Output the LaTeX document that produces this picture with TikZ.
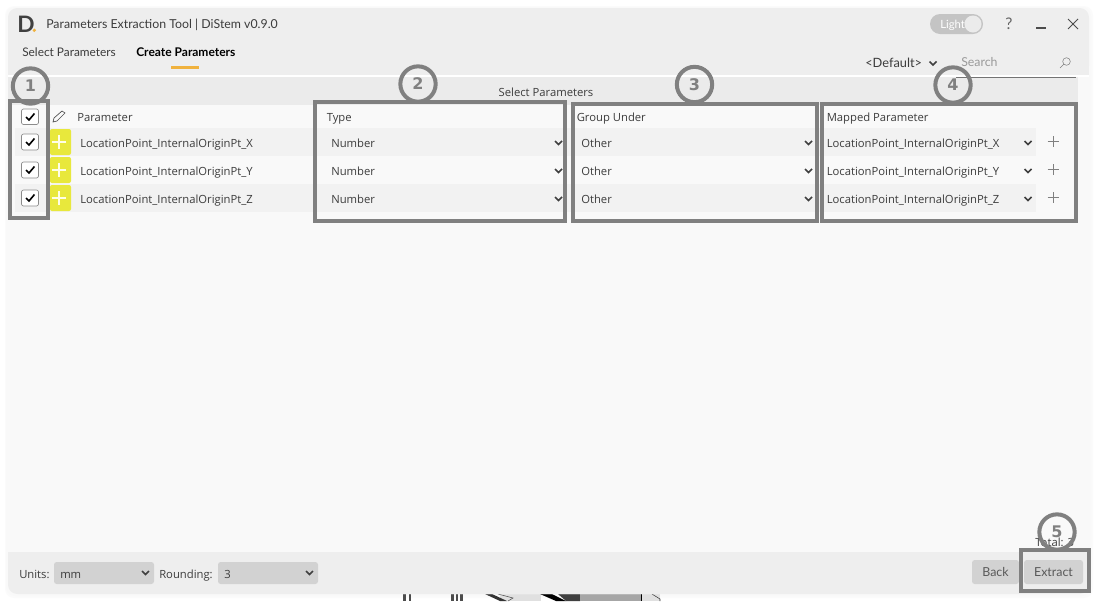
\documentclass[tikz,border=0pt]{standalone}
\usepackage{fontspec}
\setmainfont{Open Sans}
\newfontfamily\titlefont{Lato}
\newfontfamily\numfont{DejaVu Sans}
\usepackage{xcolor}
\usetikzlibrary{positioning, calc, shapes}
\definecolor{barback}{HTML}{EEEEEE}
\definecolor{stripback}{HTML}{EBEBEB}
\definecolor{bodyback}{HTML}{F9F9F9}
\definecolor{rowback}{HTML}{F2F2F2}
\definecolor{marker}{HTML}{808080}
\definecolor{plusyellow}{HTML}{E8E83C}
\definecolor{tabline}{HTML}{F0B23E}
\definecolor{uitext}{HTML}{3C3C3C}
\definecolor{btnback}{HTML}{D2D2D2}
\tikzset{
  lbl/.style={anchor=base west, inner sep=0pt, text=uitext, font=\fontsize{8.45}{10}\selectfont},
  titlelbl/.style={lbl, font=\titlefont\fontsize{9.25}{11}\selectfont},
  markbox/.style={draw=marker, line width=3pt},
  markcircle/.style={circle, draw=marker, line width=3pt, minimum size=26.5pt, inner sep=0pt, text=marker, font=\numfont\bfseries\fontsize{12}{14}\selectfont},
  tickbox/.style={draw=black!45, fill=white, rounded corners=1.5pt, line width=0.5pt},
  tick/.style={line width=1.2pt, black},
  chevron/.style={line width=1.1pt, black!75},
  thinplus/.style={line width=0.5pt, black!50},
  whiteplus/.style={line width=1pt, white!90!yellow},
  yellowbox/.style={fill=plusyellow, rounded corners=1.5pt},
  btnlbl/.style={anchor=base, inner sep=0pt, text=black!65, font=\titlefont\fontsize{9.3}{11}\selectfont}
}
\begin{document}
\begin{tikzpicture}[x=0.75pt, y=-0.75pt]
  \useasboundingbox (0,0) rectangle (1095,601);
  \fill[white] (0,0) rectangle (1095,601);
  \fill[black!1.5, rounded corners=7pt] (5,6) rectangle (1093,598);
  \fill[black!2.5, rounded corners=7pt] (6,7) rectangle (1091,596);

  \fill[black!70] (403,594) rectangle (406,601);
  \fill[black!70] (409,594) rectangle (411,601);
  \fill[black!70] (451,594) rectangle (454,601);
  \fill[black!70] (456,594) rectangle (458,601);
  \fill[black!70] (460,594) rectangle (463,601);
  \fill[black!12] (500,594) rectangle (541,601);
  \fill[black!80] (485,594) -- (492,594) -- (507,601) -- (500,601) -- cycle;
  \draw[black!70] (498,594) -- (513,598) -- (508,601);
  \fill[black!12] (565,594) rectangle (660,601);
  \fill[black] (540,594) -- (552,594) -- (566,601) -- (556,601) -- cycle;
  \fill[black!75] (558,594) -- (580,594) -- (580,601) -- (566,601) -- cycle;
  \fill[black!35] (580,594) rectangle (641,601);
  \draw[black, line width=0.6pt] (641.5,594) -- (641.5,601);
  \draw[black!80] (652,594) -- (660,599) -- (660,601);

  \fill[bodyback, rounded corners=7pt] (8,8) rectangle (1089,594);
  \fill[barback, rounded corners=7pt] (8,8) -- (1089,8) -- (1089,75) -- (8,75) -- cycle;
  \fill[barback, rounded corners=7pt] (8,552) -- (1089,552) -- (1089,594) -- (8,594) -- cycle;
  \fill[barback] (8,20) rectangle (1089,75);
  \fill[barback] (8,552) rectangle (1089,580);
  \fill[white] (8,75) rectangle (1089,77);
  \fill[stripback] (8,77) rectangle (1078,105);
  \fill[rowback] (15,128) rectangle (1036,156);
  \fill[bodyback] (15,156) rectangle (1036,184);
  \fill[rowback] (15,184) rectangle (1036,212);

  \node[anchor=base west, inner sep=0pt, text=black!75, font=\titlefont\bfseries\fontsize{17}{19}\selectfont] (logo) at (17,32) {D};
  \fill[tabline] (34.3,30.3) circle (1.8);
  \node[titlelbl] (apptitle) at (46,28) {Parameters Extraction Tool | DiStem v0.9.0};
  \node[titlelbl, font=\titlefont\fontsize{8.9}{11}\selectfont] (tabselect) at (22,56) {Select Parameters};
  \node[titlelbl, text=black, font=\titlefont\bfseries\fontsize{9}{11}\selectfont] (tabcreate) at (136,56) {Create Parameters};
  \fill[tabline] (171,66) rectangle (199,69);

  \fill[black!23, rounded corners=7.5pt] (930,14) rectangle (983,34);
  \node[lbl, text=white, font=\titlefont\fontsize{8.5}{10}\selectfont] (lightlbl) at (940,28) {Light};
  \fill[black!8] (973,24) circle (8.5);
  \node[titlelbl, text=black!60, font=\titlefont\fontsize{12}{14}\selectfont] (helpmark) at (1005,29) {?};
  \draw[black!70, line width=1pt] (1036,28) -- (1046,28);
  \draw[black!70, line width=0.7pt] (1068,19) -- (1078,29) (1078,19) -- (1068,29);
  \node[titlelbl, font=\titlefont\fontsize{9.6}{11}\selectfont] (defaultlbl) at (865,67) {<Default>};
  \draw[chevron] (929.5,61.5) -- (933,65) -- (936.5,61.5);
  \node[titlelbl, text=black!40] (searchlbl) at (961,66.5) {Search};
  \draw[black!50, line width=0.4pt] (1060,68) -- (1064,64);
  \draw[black!50, line width=0.4pt] (1066.5,61.5) circle (3.8);
  \draw[black!55, line width=0.5pt] (956,77) -- (1076,77);

  \node[lbl, anchor=base] (striptitle) at (546,96) {Select Parameters};

  \draw[tickbox] (21.5,109) rectangle (38.5,124.5);
  \draw[tick] (26,117) -- (29,120) -- (34.5,113.5);
  \draw[tickbox] (21.5,134) rectangle (38.5,150);
  \draw[tick] (26,142) -- (29,145) -- (34.5,138.5);
  \draw[tickbox] (21.5,162) rectangle (38.5,178);
  \draw[tick] (26,170) -- (29,173) -- (34.5,166.5);
  \draw[tickbox] (21.5,190) rectangle (38.5,206);
  \draw[tick] (26,198) -- (29,201) -- (34.5,194.5);

  \draw[black!70, line width=0.5pt] (53,122) -- (54,118) -- (62,111) -- (65,113) -- (57,121) -- cycle;

  \fill[yellowbox] (50,129) rectangle (71,155);
  \draw[whiteplus] (59,135) -- (59,149) (52,142) -- (66,142);
  \fill[yellowbox] (50,157) rectangle (71,183);
  \draw[whiteplus] (59,163) -- (59,177) (52,170) -- (66,170);
  \fill[yellowbox] (50,185) rectangle (71,211);
  \draw[whiteplus] (59,191) -- (59,205) (52,198) -- (66,198);

  \node[lbl] (hparam) at (77,121) {Parameter};
  \node[lbl] (htype) at (326.5,121) {Type};
  \node[lbl] (hgroup) at (576.5,121) {Group Under};
  \node[lbl] (hmapped) at (826.5,121) {Mapped Parameter};

  \node[lbl] (namex) at (80,147) {LocationPoint\_InternalOriginPt\_X};
  \node[lbl] (namey) at (80,175) {LocationPoint\_InternalOriginPt\_Y};
  \node[lbl] (namez) at (80,203) {LocationPoint\_InternalOriginPt\_Z};
  \node[lbl] (typex) at (331,147) {Number};
  \node[lbl] (typey) at (331,175) {Number};
  \node[lbl] (typez) at (331,203) {Number};
  \node[lbl] (groupx) at (581,147) {Other};
  \node[lbl] (groupy) at (581,175) {Other};
  \node[lbl] (groupz) at (581,203) {Other};
  \node[lbl] (mapx) at (826.5,147) {LocationPoint\_InternalOriginPt\_X};
  \node[lbl] (mapy) at (826.5,175) {LocationPoint\_InternalOriginPt\_Y};
  \node[lbl] (mapz) at (826.5,203) {LocationPoint\_InternalOriginPt\_Z};

  \draw[chevron] (555,141) -- (558.5,144.5) -- (562,141);
  \draw[chevron] (555,169) -- (558.5,172.5) -- (562,169);
  \draw[chevron] (555,197) -- (558.5,200.5) -- (562,197);
  \draw[chevron] (805,141) -- (808.5,144.5) -- (812,141);
  \draw[chevron] (805,169) -- (808.5,172.5) -- (812,169);
  \draw[chevron] (805,197) -- (808.5,200.5) -- (812,197);
  \draw[chevron] (1024.5,141) -- (1028,144.5) -- (1031.5,141);
  \draw[chevron] (1024.5,169) -- (1028,172.5) -- (1031.5,169);
  \draw[chevron] (1024.5,197) -- (1028,200.5) -- (1031.5,197);

  \draw[thinplus] (1053,136) -- (1053,147) (1047.5,141.5) -- (1058.5,141.5);
  \draw[thinplus] (1053,164) -- (1053,175) (1047.5,169.5) -- (1058.5,169.5);
  \draw[thinplus] (1053,192) -- (1053,203) (1047.5,197.5) -- (1058.5,197.5);

  \node[lbl] (totallbl) at (1035,546) {Total: 3};
  \node[lbl] (unitslbl) at (19,578) {Units:};
  \fill[btnback, rounded corners=2pt] (54,562) rectangle (154,584);
  \node[lbl] (unitsval) at (60,578) {mm};
  \draw[chevron] (142,571) -- (145.5,574.5) -- (149,571);
  \node[lbl] (roundlbl) at (159,578) {Rounding:};
  \fill[btnback, rounded corners=2pt] (218,562) rectangle (318,584);
  \node[lbl] (roundval) at (224,578) {3};
  \draw[chevron] (306,571) -- (309.5,574.5) -- (313,571);
  \fill[btnback, rounded corners=2pt] (972,560) rectangle (1019,584);
  \node[btnlbl] (backlbl) at (995.5,576) {Back};
  \fill[btnback, rounded corners=2pt] (1024,560) rectangle (1083,584);
  \node[btnlbl] (extractlbl) at (1053.5,576) {Extract};

  \draw[markbox] (9.5,101) rectangle (48,218);
  \draw[markbox] (315,102) rectangle (565,221);
  \draw[markbox] (573,104) rectangle (817,221);
  \draw[markbox] (822,104) rectangle (1076,221);
  \draw[markbox] (1021,550) rectangle (1089,591);

  \node[markcircle] (one) at (30.5,86) {1};
  \node[markcircle] (two) at (418,84) {2};
  \node[markcircle] (three) at (694.5,84.5) {3};
  \node[markcircle] (four) at (953,85) {4};
  \node[markcircle] (five) at (1057,532) {5};
\end{tikzpicture}
\end{document}
